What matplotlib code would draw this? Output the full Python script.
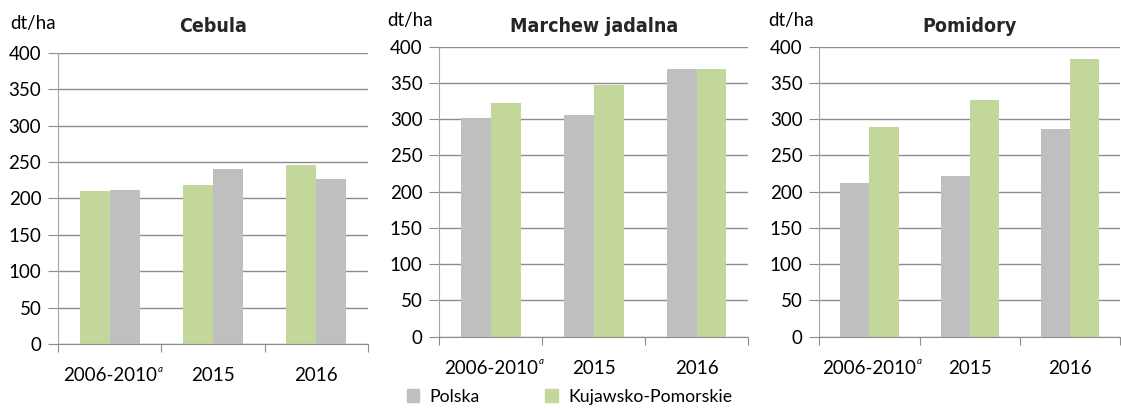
import matplotlib
matplotlib.use('Agg')

import matplotlib.pyplot as plt
import numpy as np
from matplotlib.patches import Patch

# Dane: plony (dt/ha)
kategorie = ['2006-2010', '2015', '2016']
tytuly = ['Cebula', 'Marchew jadalna', 'Pomidory']

# Cebula - kolejnosc slupkow jak na oryginale (zielony, szary)
cebula_zielony = [210, 219, 246]
cebula_szary = [212, 241, 227]

# Marchew jadalna
marchew_polska = [302, 306, 369]
marchew_kp = [322, 347, 369]

# Pomidory
pomidory_polska = [212, 222, 286]
pomidory_kp = [289, 326, 383]

SZARY = '#bfbfbf'
ZIELONY = '#c3d69b'
LINIA = '#8c8c8c'

plt.rcParams['font.family'] = ['Lato', 'DejaVu Sans']

fig = plt.figure(figsize=(11.21, 4.08), dpi=100)

pozycje = [
    [0.0517, 0.157, 0.2766, 0.713],
    [0.3919, 0.1748, 0.2754, 0.7107],
    [0.7309, 0.1748, 0.2682, 0.7107],
]

serie = [
    (cebula_zielony, ZIELONY, cebula_szary, SZARY),
    (marchew_polska, SZARY, marchew_kp, ZIELONY),
    (pomidory_polska, SZARY, pomidory_kp, ZIELONY),
]

x = np.arange(len(kategorie))
w = 0.29

for i, (poz, (s1, c1, s2, c2), tytul) in enumerate(zip(pozycje, serie, tytuly)):
    ax = fig.add_axes(poz)
    ax.bar(x - w / 2, s1, width=w, color=c1, zorder=2)
    ax.bar(x + w / 2, s2, width=w, color=c2, zorder=2)
    ax.set_xlim(-0.5, 2.5)
    ax.set_ylim(0, 400)
    ax.set_yticks(range(0, 401, 50))
    ax.yaxis.grid(True, color=LINIA, linewidth=1.0, zorder=0)
    ax.set_axisbelow(True)
    for s in ['top', 'right']:
        ax.spines[s].set_visible(False)
    ax.spines['left'].set_color('#a6a6a6')
    ax.spines['bottom'].set_color(LINIA)
    ax.tick_params(axis='y', length=7, color=LINIA, labelsize=13.5, pad=5)
    # podzialki miedzy kategoriami
    ax.set_xticks([-0.5, 0.5, 1.5, 2.5])
    ax.set_xticklabels([])
    ax.tick_params(axis='x', length=6, color=LINIA)
    for k, lab in enumerate(kategorie):
        t = ax.text(k, -0.11, lab, transform=ax.get_xaxis_transform(),
                    ha='center', va='center', fontsize=13.5)
        if k == 0:
            ax.annotate('a', xy=(1, 1), xycoords=t, xytext=(0.5, 2),
                        textcoords='offset points', ha='left', va='top',
                        fontsize=7, style='italic')
    ax.text(0.5, 1.09 if i == 0 else 1.07, tytul, transform=ax.transAxes,
            ha='center', va='center', fontsize=14, fontweight='bold',
            family=['DejaVu Sans'], fontstretch='condensed', color='#262626')
    ax.text(-0.155 if i == 0 else -0.17, 1.1 if i == 0 else 1.09, 'dt/ha',
            transform=ax.transAxes, ha='left', va='center', fontsize=13.5)

uchwyty = [Patch(color=SZARY, label='Polska'),
           Patch(color=ZIELONY, label='Kujawsko-Pomorskie')]
fig.legend(handles=uchwyty, loc='center', bbox_to_anchor=(0.508, 0.028), ncol=2,
           frameon=False, fontsize=12.7, handlelength=0.7, handleheight=0.7,
           columnspacing=3.7, handletextpad=0.6, borderpad=0)

fig.savefig('out.png', dpi=100)
